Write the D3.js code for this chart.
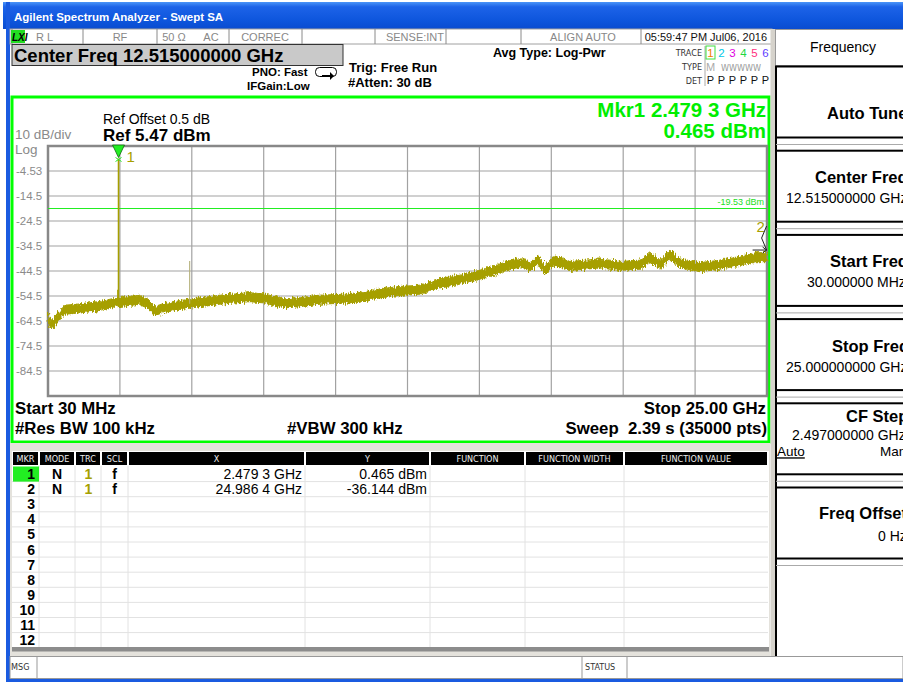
<!DOCTYPE html>
<html>
<head>
<meta charset="utf-8">
<script src="https://cdn.jsdelivr.net/npm/d3@7"></script>
<style>
body { margin: 0; background: #fff; }
text { font-family: "Liberation Sans", Arial, sans-serif; }
.cond { font-family: "DejaVu Sans Condensed", "DejaVu Sans", sans-serif; }
</style>
</head>
<body>
<svg id="canvas" width="903" height="682"></svg>
<script>
// trace 1 (GHz / dBm, centre of the noise band)
let traceFreq = [0.03, 0.10, 0.20, 0.38, 0.62, 1.14, 1.84, 2.43, 2.88, 3.22,
    3.50, 3.75, 4.00, 4.44, 5.00, 6.00, 7.05, 7.53, 8.26, 8.78,
    9.48, 10.52, 11.56, 12.25, 12.95, 13.64, 14.33, 15.03, 15.73, 16.25,
    16.59, 16.77, 17.05, 17.29, 17.53, 17.67, 18.16, 19.20, 19.89, 20.59,
    20.94, 21.29, 21.63, 21.98, 22.67, 23.37, 24.06, 24.58, 25.00];
let traceLevel = [-62.5, -65.0, -66.0, -63.0, -60.0, -59.5, -58.5, -57.0, -56.5, -56.0,
    -57.5, -60.5, -59.5, -58.5, -57.5, -56.0, -55.0, -55.5, -57.5, -57.0,
    -56.0, -55.5, -53.5, -52.5, -52.0, -49.5, -48.0, -46.0, -43.5, -41.5,
    -41.5, -43.0, -40.0, -44.5, -41.0, -40.5, -42.5, -41.5, -42.5, -42.0,
    -39.0, -42.0, -38.0, -41.5, -43.0, -42.0, -40.5, -39.0, -39.0];

// narrow spurs sticking out of the noise
let spikeFreq = [2.4793, 4.95, 2.45, 7.50];
let spikeLevel = [0.465, -40.5, -52.0, -53.0];

let markerFreq = [2.4793, 24.9864];
let markerLevel = [0.465, -36.144];
let markerXText = ['2.479 3 GHz', '24.986 4 GHz'];
let markerYText = ['0.465 dBm', '-36.144 dBm'];

let refLevel = 5.47;
let dbPerDiv = 10;
let displayLine = -19.53;
let startGHz = 0.03;
let stopGHz = 25.0;
let yTickLabels = ['-4.53', '-14.5', '-24.5', '-34.5', '-44.5', '-54.5', '-64.5', '-74.5', '-84.5'];

let statusCells = ['R L', 'RF', '50 Ω', 'AC', 'CORREC', '', 'SENSE:INT', '', 'ALIGN AUTO', '05:59:47 PM Jul06, 2016'];
let tableHeaders = ['MKR', 'MODE', 'TRC', 'SCL', 'X', 'Y', 'FUNCTION', 'FUNCTION WIDTH', 'FUNCTION VALUE'];
let softKeyTitles = ['Auto Tune', 'Center Freq', 'Start Freq', 'Stop Freq', 'CF Step', 'Freq Offset'];
let softKeyValues = ['', '12.515000000 GHz', '30.000000 MHz', '25.000000000 GHz', '2.497000000 GHz', '0 Hz'];

let canvas = d3.select('#canvas');
let olive = '#a69f00';

let txt = (g, x, y, s, size, opt) => {
    opt = opt || {};
    return g.append('text')
        .attr('x', x).attr('y', y)
        .attr('font-size', size)
        .attr('font-weight', opt.bold ? 'bold' : 'normal')
        .attr('fill', opt.fill || '#000')
        .attr('text-anchor', opt.anchor || 'start')
        .attr('class', opt.cls || null)
        .text(s);
};

// ---------- window chrome ----------
let defs = canvas.append('defs');
let grad = defs.append('linearGradient').attr('id', 'titleGrad')
    .attr('x1', 0).attr('y1', 0).attr('x2', 0).attr('y2', 1);
grad.append('stop').attr('offset', '0%').attr('stop-color', '#4a94f8');
grad.append('stop').attr('offset', '18%').attr('stop-color', '#1d63e8');
grad.append('stop').attr('offset', '70%').attr('stop-color', '#0d55dc');
grad.append('stop').attr('offset', '100%').attr('stop-color', '#0a4cd0');

// rough texture for the noise band (rendering only, the levels come from traceLevel)
let rough = defs.append('filter').attr('id', 'rough')
    .attr('x', '-2%').attr('y', '-30%').attr('width', '104%').attr('height', '160%');
rough.append('feTurbulence').attr('type', 'fractalNoise').attr('baseFrequency', '0.9 0.2')
    .attr('numOctaves', 2).attr('seed', 4).attr('result', 'turb');
rough.append('feDisplacementMap').attr('in', 'SourceGraphic').attr('in2', 'turb')
    .attr('scale', 7).attr('xChannelSelector', 'A').attr('yChannelSelector', 'G');

canvas.append('rect').attr('x', 3).attr('y', 2).attr('width', 900).attr('height', 27).attr('fill', 'url(#titleGrad)');
canvas.append('rect').attr('x', 6).attr('y', 2).attr('width', 4).attr('height', 680).attr('fill', '#1a5be0');
canvas.append('rect').attr('x', 6).attr('y', 679).attr('width', 897).attr('height', 3).attr('fill', '#1a5be0');
txt(canvas, 14, 21, 'Agilent Spectrum Analyzer - Swept SA', 11.5, { bold: true, fill: '#fff' });

// status row
let statusX = [12, 83, 157, 229, 302, 375, 446, 521, 641, 772];
let statusPos = [[36, 'start'], [120, 'middle'], [174, 'middle'], [211, 'middle'], [265, 'middle'], [0, 'start'], [444, 'end'], [0, 'start'], [583, 'middle'], [767, 'end']];
canvas.append('rect').attr('x', 10).attr('y', 29).attr('width', 762).attr('height', 15).attr('fill', '#fff')
    .attr('stroke', '#a0a0a0');
statusX.forEach((x) => {
    canvas.append('line').attr('x1', x).attr('x2', x).attr('y1', 29).attr('y2', 44).attr('stroke', '#8a8a8a');
});
canvas.append('rect').attr('x', 11).attr('y', 30).attr('width', 14).attr('height', 13).attr('fill', '#22dd22');
txt(canvas, 12, 41, 'LXI', 10, { bold: true }).attr('font-style', 'italic');
statusCells.forEach((s, i) => {
    if (s === '') return;
    txt(canvas, statusPos[i][0], 41, s, 11, { anchor: statusPos[i][1], fill: i === 9 ? '#111' : '#888' });
});

// header lines
canvas.append('rect').attr('x', 12).attr('y', 44.5).attr('width', 331).attr('height', 21)
    .attr('fill', '#c9c9c9').attr('stroke', '#333');
txt(canvas, 14, 62, 'Center Freq 12.515000000 GHz', 18.5, { bold: true });
txt(canvas, 252, 76, 'PNO: Fast', 11.5, { bold: true });
txt(canvas, 247, 90, 'IFGain:Low', 11.5, { bold: true });
canvas.append('rect').attr('x', 315.5).attr('y', 67.5).attr('width', 21).attr('height', 9).attr('rx', 4)
    .attr('fill', 'none').attr('stroke', '#000');
canvas.append('path').attr('d', 'M322,75 L330,75 L330,72 L334,76 L330,80 L330,77 L322,77 Z').attr('fill', '#000');
txt(canvas, 349, 72, 'Trig: Free Run', 13, { bold: true });
txt(canvas, 348, 87, '#Atten: 30 dB', 13, { bold: true });
txt(canvas, 493, 57, 'Avg Type: Log-Pwr', 12.5, { bold: true });

// trace table
txt(canvas, 702, 56, 'TRACE', 9, { anchor: 'end', fill: '#333', cls: 'cond' });
txt(canvas, 702, 70, 'TYPE', 9, { anchor: 'end', fill: '#333', cls: 'cond' });
txt(canvas, 702, 84, 'DET', 9, { anchor: 'end', fill: '#333', cls: 'cond' });
canvas.append('line').attr('x1', 705).attr('x2', 705).attr('y1', 46).attr('y2', 86).attr('stroke', '#aaa');
let traceColors = ['#f08000', '#00c8e8', '#e000e0', '#20d840', '#ff3080', '#6040ff'];
canvas.append('rect').attr('x', 706).attr('y', 46).attr('width', 9).attr('height', 13).attr('fill', 'none').attr('stroke', '#40e040');
traceColors.forEach((c, i) => {
    let x = 710.5 + i * 11;
    txt(canvas, x, 57, String(i + 1), 11.5, { anchor: 'middle', fill: c });
    txt(canvas, x, 84, 'P', 11, { anchor: 'middle', fill: '#111' });
});
txt(canvas, 710.5, 71, 'M', 11, { anchor: 'middle', fill: '#aaa' });
txt(canvas, 741, 71, 'WWWWW', 9, { anchor: 'middle', fill: '#999', cls: 'cond' });

// ---------- measurement window ----------
canvas.append('rect').attr('x', 12).attr('y', 97).attr('width', 757).attr('height', 345)
    .attr('fill', '#fff').attr('stroke', '#00ff00').attr('stroke-width', 3);
canvas.append('rect').attr('x', 770.5).attr('y', 29).attr('width', 5).attr('height', 627).attr('fill', '#d6d3cc');

let plotLeft = 48, plotRight = 767, plotTop = 146, plotBottom = 396;
let x = d3.scaleLinear().domain([startGHz, stopGHz]).range([plotLeft, plotRight]);
let y = d3.scaleLinear().domain([refLevel - 10 * dbPerDiv, refLevel]).range([plotBottom, plotTop]);

let grid = canvas.append('g');
d3.range(1, 10).forEach((i) => {
    let gx = x(startGHz + i * (stopGHz - startGHz) / 10);
    grid.append('line').attr('x1', gx).attr('x2', gx).attr('y1', plotTop).attr('y2', plotBottom)
        .attr('stroke', '#a2a2a2').attr('stroke-width', 1.2);
});
yTickLabels.forEach((lab, i) => {
    let gy = y(refLevel - (i + 1) * dbPerDiv);
    grid.append('line').attr('x1', plotLeft).attr('x2', plotRight).attr('y1', gy).attr('y2', gy)
        .attr('stroke', '#a2a2a2').attr('stroke-width', 1.2);
    txt(canvas, 16, gy + 4, lab, 11.5, { fill: '#8a8a8a' });
});
canvas.append('rect').attr('x', plotLeft).attr('y', plotTop).attr('width', plotRight - plotLeft).attr('height', plotBottom - plotTop)
    .attr('fill', 'none').attr('stroke', '#888').attr('stroke-width', 2.5);

txt(canvas, 15, 139, '10 dB/div', 13.5, { fill: '#8a8a8a' });
txt(canvas, 15, 154, 'Log', 13.5, { fill: '#8a8a8a' });
txt(canvas, 103, 124, 'Ref Offset 0.5 dB', 14);
txt(canvas, 103, 141, 'Ref ' + refLevel + ' dBm', 17, { bold: true });
txt(canvas, 766, 117, 'Mkr1 2.479 3 GHz', 20.5, { bold: true, anchor: 'end', fill: '#00ee00' });
txt(canvas, 766, 138, '0.465 dBm', 20.5, { bold: true, anchor: 'end', fill: '#00ee00' });

// display line
canvas.append('line').attr('x1', plotLeft).attr('x2', plotRight).attr('y1', y(displayLine)).attr('y2', y(displayLine))
    .attr('stroke', '#22ee22').attr('stroke-width', 1);
txt(canvas, 764, y(displayLine) - 4, displayLine + ' dBm', 9, { anchor: 'end', fill: '#22dd22' });

// trace
let pts = d3.zip(traceFreq, traceLevel);
let band = d3.area()
    .x((d) => x(d[0]))
    .y0((d) => y(d[1] - 1.8))
    .y1((d) => y(d[1] + 1.8));
canvas.append('path').datum(pts).attr('d', band).attr('fill', olive)
    .attr('stroke', olive).attr('stroke-width', 1).attr('stroke-linejoin', 'bevel')
    .attr('filter', 'url(#rough)');

let levelAt = (f) => {
    let i = d3.bisector((d) => d[0]).left(pts, f);
    let a = pts[Math.max(i - 1, 0)], b = pts[Math.min(i, pts.length - 1)];
    let t = b[0] === a[0] ? 0 : (f - a[0]) / (b[0] - a[0]);
    return a[1] + t * (b[1] - a[1]);
};
spikeFreq.forEach((f, i) => {
    canvas.append('line').attr('x1', x(f)).attr('x2', x(f))
        .attr('y1', y(levelAt(f))).attr('y2', y(spikeLevel[i]))
        .attr('stroke', i === 1 ? '#b5b07a' : olive).attr('stroke-width', i === 0 ? 1.6 : 1.1);
});

// marker 1
let m1x = x(markerFreq[0]), m1y = y(markerLevel[0]);
canvas.append('path').attr('d', `M${m1x - 6},${plotTop - 1} L${m1x + 6},${plotTop - 1} L${m1x},${m1y - 1} Z`)
    .attr('fill', '#22ee22').attr('stroke', '#116611').attr('stroke-width', 0.8);
canvas.append('path').attr('d', `M${m1x - 3},${m1y - 1} L${m1x + 3},${m1y + 3} M${m1x + 3},${m1y - 1} L${m1x - 3},${m1y + 3}`)
    .attr('stroke', '#22ee22').attr('stroke-width', 1);
txt(canvas, m1x + 8, m1y + 3, '1', 15, { fill: olive });

// marker 2 (at the right edge)
let m2x = x(markerFreq[1]), m2y = y(markerLevel[1]);
txt(canvas, m2x - 10, m2y - 18, '2', 15, { fill: olive });
canvas.append('path').attr('d', `M${m2x},${m2y - 24} L${m2x - 5},${m2y - 12} L${m2x},${m2y}`)
    .attr('fill', 'none').attr('stroke', '#222').attr('stroke-width', 1);
canvas.append('path').attr('d', `M${m2x - 14},${m2y} L${m2x},${m2y} M${m2x - 4},${m2y - 3} L${m2x},${m2y} L${m2x - 4},${m2y + 3}`)
    .attr('fill', 'none').attr('stroke', '#222').attr('stroke-width', 1);

// bottom annotations
txt(canvas, 15, 414, 'Start 30 MHz', 16.8, { bold: true });
txt(canvas, 15, 434, '#Res BW 100 kHz', 16.8, { bold: true });
txt(canvas, 287, 434, '#VBW 300 kHz', 16.8, { bold: true });
txt(canvas, 766, 414, 'Stop 25.00 GHz', 16.8, { bold: true, anchor: 'end' });
txt(canvas, 767, 434, 'Sweep  2.39 s (35000 pts)', 16.8, { bold: true, anchor: 'end' }).style('white-space', 'pre');

// ---------- marker table ----------
canvas.append('rect').attr('x', 10).attr('y', 443).attr('width', 760).attr('height', 213).attr('fill', '#e4e2dc');
canvas.append('rect').attr('x', 12).attr('y', 451).attr('width', 757).attr('height', 197).attr('fill', '#fff');
let colEdges = [12, 39, 75, 101, 128, 305, 430, 525, 624, 768];
tableHeaders.forEach((h, i) => {
    canvas.append('rect').attr('x', colEdges[i] + 1).attr('y', 452).attr('width', colEdges[i + 1] - colEdges[i] - 2).attr('height', 13)
        .attr('fill', '#000');
    txt(canvas, (colEdges[i] + colEdges[i + 1]) / 2, 462, h, 9, { anchor: 'middle', fill: '#eee', cls: 'cond' });
});
let rowH = 15.1, rowTop = 466.5;
d3.range(12).forEach((r) => {
    let ry = rowTop + (r + 1) * rowH;
    canvas.append('line').attr('x1', 12).attr('x2', 768).attr('y1', ry).attr('y2', ry).attr('stroke', '#e2e2e2');
});
colEdges.slice(1, -1).forEach((cx) => {
    canvas.append('line').attr('x1', cx).attr('x2', cx).attr('y1', 466).attr('y2', 647).attr('stroke', '#e2e2e2');
});
canvas.append('rect').attr('x', 13).attr('y', rowTop).attr('width', 26).attr('height', rowH).attr('fill', '#22ee22');
d3.range(12).forEach((r) => {
    let cy = rowTop + r * rowH + 12.5;
    txt(canvas, 35, cy, String(r + 1), 14, { bold: true, anchor: 'end' });
    if (r < markerFreq.length) {
        txt(canvas, 57, cy, 'N', 14, { bold: true, anchor: 'middle' });
        txt(canvas, 88.5, cy, '1', 14, { bold: true, anchor: 'middle', fill: olive });
        txt(canvas, 114.5, cy, 'f', 14, { bold: true, anchor: 'middle' });
        txt(canvas, 302, cy, markerXText[r], 14, { anchor: 'end' });
        txt(canvas, 427, cy, markerYText[r], 14, { anchor: 'end' });
    }
});
canvas.append('rect').attr('x', 12).attr('y', 647).attr('width', 757).attr('height', 4.5).attr('fill', '#8c8c8c');

// message bar
canvas.append('rect').attr('x', 10).attr('y', 656.5).attr('width', 893).attr('height', 22).attr('fill', '#fff').attr('stroke', '#999');
[37, 582, 627].forEach((bx) => {
    canvas.append('line').attr('x1', bx).attr('x2', bx).attr('y1', 657).attr('y2', 678).attr('stroke', '#999');
});
txt(canvas, 11, 670, 'MSG', 9, { fill: '#333', cls: 'cond' });
txt(canvas, 585, 670, 'STATUS', 9, { fill: '#333', cls: 'cond' });

// ---------- soft keys ----------
canvas.append('rect').attr('x', 775.5).attr('y', 29.5).attr('width', 140).attr('height', 36).attr('fill', '#fff').attr('stroke', '#999');
txt(canvas, 843, 52, 'Frequency', 14, { anchor: 'middle' });
canvas.append('line').attr('x1', 776).attr('x2', 776).attr('y1', 66).attr('y2', 656).attr('stroke', '#000').attr('stroke-width', 2);
let keyTitleX = [827, 815, 830, 832, 846, 819];
let keyValueX = [0, 786, 807, 786, 792, 878];
let keyTitleDy = [52, 32, 32, 33, 19, 31];
let keyValueDy = [0, 52, 52, 53, 37, 53];
softKeyTitles.forEach((t, i) => {
    let top = 66.5 + i * 84.2;
    canvas.append('rect').attr('x', 776).attr('y', top).attr('width', 140).attr('height', 71)
        .attr('fill', '#fff').attr('stroke', '#000').attr('stroke-width', 2);
    canvas.append('line').attr('x1', 776).attr('x2', 903).attr('y1', top + 78).attr('y2', top + 78)
        .attr('stroke', '#aaa');
    txt(canvas, keyTitleX[i], top + keyTitleDy[i], t, 16.5, { bold: true });
    if (softKeyValues[i] !== '') {
        txt(canvas, keyValueX[i], top + keyValueDy[i], softKeyValues[i], 14);
    }
    if (t === 'CF Step') {
        txt(canvas, 777, top + 53, 'Auto', 13.5).attr('text-decoration', 'underline');
        txt(canvas, 880, top + 53, 'Man', 13.5);
    }
});
</script>
</body>
</html>
